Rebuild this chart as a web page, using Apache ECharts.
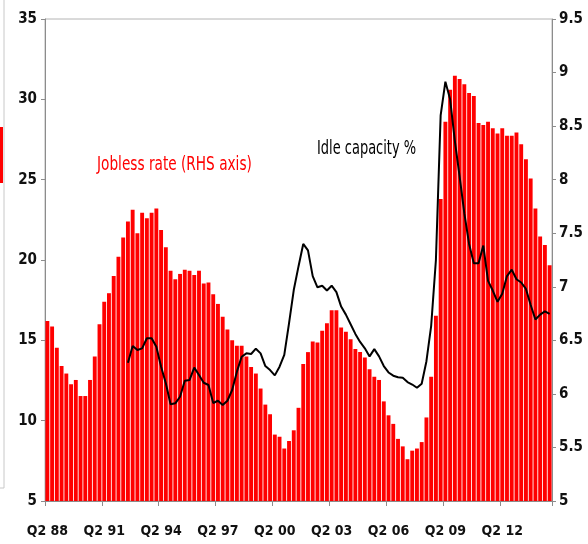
<!DOCTYPE html>
<html>
<head>
<meta charset="utf-8">
<script src="https://cdn.jsdelivr.net/npm/echarts@6/dist/echarts.min.js"></script>
<style>
  html, body { margin: 0; padding: 0; background: #fff; }
  #chart { width: 588px; height: 544px; }
</style>
</head>
<body>
<div id="chart"></div>
<script>
// quarterly, Q2 88 .. Q4 14
var START_YEAR = 1988;
var START_Q = 2;
var N = 107;
var quarters = [];
for (var i = 0; i < N; i++) {
  var q = START_Q - 1 + i;
  var yr = START_YEAR + Math.floor(q / 4);
  quarters.push('Q' + (q % 4 + 1) + ' ' + String(yr % 100).padStart(2, '0'));
}

// jobless rate, RHS axis
var joblessRate = [
  6.68, 6.63, 6.43, 6.26, 6.19, 6.09, 6.13, 5.98, 5.98, 6.13,
  6.35, 6.65, 6.86, 6.94, 7.10, 7.28, 7.46, 7.61, 7.72, 7.50,
  7.69, 7.64, 7.69, 7.73, 7.53, 7.37, 7.15, 7.07, 7.12, 7.16,
  7.15, 7.11, 7.15, 7.03, 7.04, 6.93, 6.84, 6.72, 6.60, 6.50,
  6.45, 6.45, 6.35, 6.25, 6.19, 6.05, 5.90, 5.81, 5.62, 5.60,
  5.49, 5.56, 5.66, 5.87, 6.28, 6.39, 6.49, 6.48, 6.59, 6.66,
  6.78, 6.78, 6.62, 6.58, 6.51, 6.42, 6.39, 6.34, 6.23, 6.16,
  6.13, 5.93, 5.80, 5.72, 5.58, 5.51, 5.39, 5.47, 5.49, 5.55,
  5.78, 6.16, 6.73, 7.82, 8.54, 8.84, 8.97, 8.94, 8.89, 8.81,
  8.78, 8.53, 8.51, 8.54, 8.48, 8.43, 8.48, 8.41, 8.41, 8.44,
  8.33, 8.19, 8.01, 7.73, 7.47, 7.39, 7.20
];

// idle capacity %, LHS axis (starts Q3 92)
var idleCapacity = [
  null, null, null, null, null, null, null, null, null, null,
  null, null, null, null, null, null, null, 13.6, 14.65, 14.4,
  14.5, 15.13, 15.13, 14.6, 13.36, 12.33, 11.02, 11.08, 11.49, 12.49,
  12.53, 13.3, 12.84, 12.36, 12.22, 11.1, 11.24, 10.97, 11.24, 11.91,
  13.05, 13.98, 14.19, 14.15, 14.48, 14.19, 13.4, 13.15, 12.82, 13.36,
  14.09, 16.06, 18.13, 19.6, 21.0, 20.6, 19.0, 18.3, 18.4, 18.1,
  18.4, 18.0, 17.1, 16.6, 16.0, 15.4, 14.9, 14.5, 14.0, 14.45,
  14.0, 13.4, 13.0, 12.8, 12.7, 12.67, 12.4, 12.25, 12.05, 12.3,
  13.7, 15.9, 20.0, 29.0, 31.1, 30.0, 27.4, 25.2, 22.9, 21.0,
  19.8, 19.8, 20.9, 18.7, 18.1, 17.4, 17.9, 19.0, 19.4, 18.8,
  18.6, 18.2, 17.2, 16.3, 16.6, 16.8, 16.65
];

var FONT = '"DejaVu Sans Condensed", "Liberation Sans Narrow", sans-serif';
var AXIS_GREY = '#8c8c8c';

var chart = echarts.init(document.getElementById('chart'), null, { renderer: 'canvas' });

var option = {
  animation: false,
  backgroundColor: '#fff',
  grid: {
    left: 45, right: 36, top: 19, bottom: 43,
    show: true, borderColor: '#b4b4b4', borderWidth: 1
  },
  xAxis: {
    type: 'category',
    data: quarters,
    boundaryGap: true,
    axisLine: { lineStyle: { color: AXIS_GREY, width: 1 } },
    axisTick: { show: true, interval: 11, length: 5, lineStyle: { color: AXIS_GREY } },
    axisLabel: {
      interval: 11, margin: 23, color: '#111',
      fontFamily: FONT, fontWeight: 'bold', fontSize: 14
    },
    splitLine: { show: false }
  },
  yAxis: [
    {
      type: 'value', position: 'left',
      min: 5, max: 35, interval: 5,
      axisLine: { show: true, lineStyle: { color: AXIS_GREY } },
      axisTick: { show: true, length: 4, lineStyle: { color: AXIS_GREY } },
      axisLabel: { margin: 8, color: '#111', fontFamily: FONT, fontWeight: 'bold', fontSize: 15 },
      splitLine: { show: false }
    },
    {
      type: 'value', position: 'right',
      min: 5, max: 9.5, interval: 0.5,
      axisLine: { show: true, lineStyle: { color: AXIS_GREY } },
      axisTick: { show: true, length: 4, lineStyle: { color: AXIS_GREY } },
      axisLabel: { margin: 7, color: '#111', fontFamily: FONT, fontWeight: 'bold', fontSize: 15 },
      splitLine: { show: false }
    }
  ],
  series: [
    {
      name: 'Jobless rate',
      type: 'bar',
      yAxisIndex: 1,
      data: joblessRate,
      barCategoryGap: '18%',
      itemStyle: { color: '#ff0000' },
      clip: true
    },
    {
      name: 'Idle capacity %',
      type: 'line',
      yAxisIndex: 0,
      data: idleCapacity,
      showSymbol: false,
      connectNulls: false,
      lineStyle: { color: '#000', width: 2 },
      z: 3
    }
  ],
  graphic: [
    {
      type: 'text', left: 97, top: 156, scaleX: 0.8,
      style: { text: 'Jobless rate (RHS axis)', fill: '#ff0000', font: '19px ' + FONT }
    },
    {
      type: 'text', left: 317, top: 140, scaleX: 0.76,
      style: { text: 'Idle capacity %', fill: '#000', font: '19px ' + FONT }
    },
    // edge of neighbouring figure visible at the left margin
    {
      type: 'polyline',
      shape: { points: [[4, 0], [4, 488], [0, 488]] },
      style: { stroke: '#c8c8c8', lineWidth: 1, fill: null }
    },
    {
      type: 'rect',
      shape: { x: 0, y: 127, width: 3, height: 56 },
      style: { fill: '#ff0000' }
    }
  ]
};

chart.setOption(option);
window.addEventListener('resize', function () { chart.resize(); });
</script>
</body>
</html>
